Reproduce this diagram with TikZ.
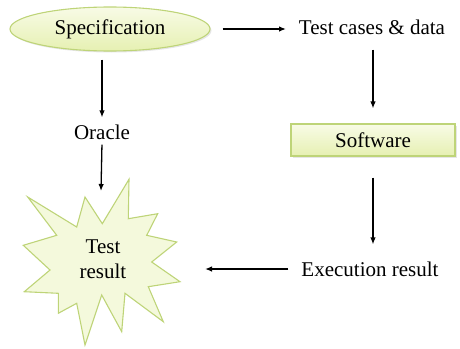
\documentclass[tikz,border=0pt]{standalone}
\usepackage{fontspec}
\setmainfont{Liberation Serif}
\usetikzlibrary{shapes.geometric, arrows.meta, shadows}

\definecolor{shapetop}{RGB}{248,251,230}
\definecolor{shapebot}{RGB}{230,240,178}
\definecolor{shapeline}{RGB}{190,212,120}

\tikzset{
	shapefill/.style={draw=shapeline, line width=1.1pt, top color=shapetop, bottom color=shapebot,
		drop shadow={opacity=0.2, shadow xshift=1.5pt, shadow yshift=-1.5pt}},
	txt/.style={font=\rmfamily\fontsize{21}{25}\selectfont, inner sep=3pt},
	arr/.style={line width=1.3pt, -{Latex[length=7pt,width=5.5pt]}}
}

\begin{document}
\begin{tikzpicture}[x=1pt, y=-1pt]
	\useasboundingbox (0,0) rectangle (460,348);

	% the star behind the result
	\filldraw[draw=shapeline, line width=1.1pt, fill=shapetop!80!shapebot]
		(129,179.3) -- (128.3,218.7) -- (157.7,213.7) -- (146.7,235.3) -- (176.7,242) -- (151.7,262)
		-- (180,281.7) -- (148.3,286.7) -- (163.3,321.7) -- (125,293.3) -- (121.7,331.7) -- (101.7,295)
		-- (85,345) -- (76.7,303.3) -- (58.3,313.3) -- (58.3,293.3) -- (24.3,291.7) -- (50,270)
		-- (23.3,245.3) -- (56.7,235.3) -- (27.7,197) -- (76.7,227) -- (85,197) -- (102.3,223.7) -- cycle;

	\node[shapefill, txt, ellipse, minimum width=200pt, minimum height=44pt] (spec) at (110,29) {Specification};
	\node[txt] (tests) at (372,27) {Test cases \& data};
	\node[shapefill, txt, rectangle, minimum width=164pt, minimum height=32pt] (soft) at (373,140) {Software};
	\node[txt] (exec) at (370,269) {Execution result};
	\node[txt] (oracle) at (102,132) {Oracle};
	\node[txt, align=center] (result) at (103,259) {Test\\result};

	\coordinate (startop) at (101,191);
	\coordinate (starright) at (205,269);

	\draw[arr] ([xshift=12pt]spec.east) -- (spec.east -| 286,0);
	\draw[arr, shorten <=12pt, shorten >=15pt] (tests.south -| soft) -- (soft.north);
	\draw[arr, shorten <=21pt, shorten >=14pt] (soft.south) -- (exec.north -| soft);
	\draw[arr, shorten <=10pt] (exec.west) -- (starright);
	\draw[arr, shorten <=8pt, shorten >=4pt] (spec.south -| oracle) -- (oracle.north);
	\draw[arr, shorten <=2pt] (oracle.south) -- (startop);
\end{tikzpicture}
\end{document}
